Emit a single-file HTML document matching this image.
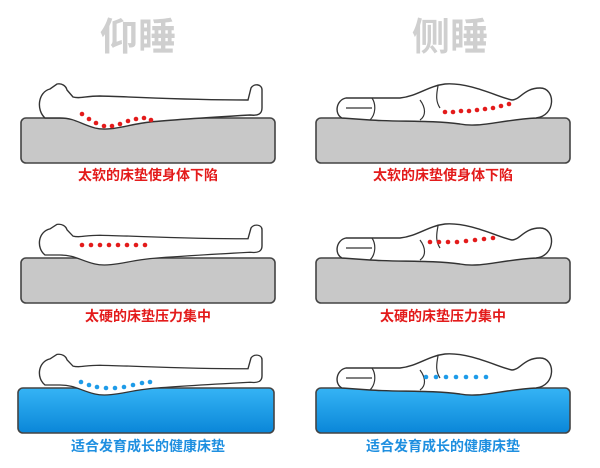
<!DOCTYPE html>
<html><head><meta charset="utf-8"><style>
html,body{margin:0;padding:0;background:#fff;width:600px;height:468px;overflow:hidden}
svg{display:block}
.t{font-family:"Liberation Sans","Noto Sans CJK SC",sans-serif;font-weight:bold}
</style></head><body>
<svg width="600" height="468" viewBox="0 0 600 468" xmlns="http://www.w3.org/2000/svg">
<defs>
<linearGradient id="bl" x1="0" y1="0" x2="0" y2="1"><stop offset="0" stop-color="#35b4f5"/><stop offset="1" stop-color="#0a86d8"/></linearGradient>
<g id="sup"><path d="M45,30 C36,22 38,4 50,1 L57,-4 C62,-5 66,-2 67,2 L73,9 C80,11 85,8 100,8 C140,9 180,12 248,12 L251,0 C254,-5 262,-4 262,2 L262,20 C262,26 258,28 250,27 C200,30 170,32 150,34 C130,36 110,44 95,40 C80,36 75,30 60,30 Z" fill="#fff" stroke="#333" stroke-width="1.4"/></g>
<g id="side"><path d="M342,30 C334,26 336,12 346,10 L400,10 C418,8 428,-2 445,-4 C470,-6 500,10 512,12 C520,12 524,0 540,0 C556,0 556,28 536,30 C500,32 480,40 460,36 C430,32 400,34 370,32 Z" fill="#fff" stroke="#333" stroke-width="1.4"/>
<path d="M346,20 L372,20 M372,10 C376,16 376,26 370,32 M420,12 C426,20 426,28 420,32 M438,-2 C436,8 436,14 440,20" fill="none" stroke="#333" stroke-width="1.2"/></g>
</defs>
<text x="138" y="50" text-anchor="middle" class="t" font-size="38" fill="#cfcfcf">仰睡</text>
<text x="450" y="50" text-anchor="middle" class="t" font-size="38" fill="#cfcfcf">侧睡</text>

<rect x="21" y="118" width="254" height="45" rx="5" fill="#c8c8c8" stroke="#444" stroke-width="1.6"/>
<rect x="316" y="118" width="254" height="45" rx="5" fill="#c8c8c8" stroke="#444" stroke-width="1.6"/>
<rect x="21" y="258" width="254" height="45" rx="5" fill="#c8c8c8" stroke="#444" stroke-width="1.6"/>
<rect x="316" y="258" width="254" height="45" rx="5" fill="#c8c8c8" stroke="#444" stroke-width="1.6"/>
<rect x="18" y="388" width="256" height="45" rx="5" fill="url(#bl)" stroke="#444" stroke-width="1.6"/>
<rect x="316" y="388" width="254" height="45" rx="5" fill="url(#bl)" stroke="#444" stroke-width="1.6"/>

<use href="#sup" transform="translate(0,88)"/>
<use href="#side" transform="translate(0,88)"/>
<use href="#sup" transform="translate(0,228) scale(1,0.9)"/>
<use href="#side" transform="translate(0,228)"/>
<use href="#sup" transform="translate(0,358) scale(1,0.9)"/>
<use href="#side" transform="translate(0,358)"/>

<g fill="#e31b1b">
<circle cx="82" cy="114" r="2.3"/><circle cx="89" cy="119" r="2.3"/><circle cx="96" cy="123" r="2.3"/><circle cx="104" cy="126" r="2.3"/><circle cx="112" cy="126" r="2.3"/><circle cx="120" cy="124" r="2.3"/><circle cx="128" cy="121" r="2.3"/><circle cx="136" cy="119" r="2.3"/><circle cx="144" cy="118" r="2.3"/><circle cx="151" cy="120" r="2.3"/>
<circle cx="445" cy="112" r="2.3"/><circle cx="453" cy="112" r="2.3"/><circle cx="461" cy="111" r="2.3"/><circle cx="469" cy="111" r="2.3"/><circle cx="477" cy="110" r="2.3"/><circle cx="485" cy="109" r="2.3"/><circle cx="493" cy="108" r="2.3"/><circle cx="501" cy="106" r="2.3"/><circle cx="509" cy="104" r="2.3"/>
<circle cx="82" cy="245" r="2.3"/><circle cx="91" cy="245" r="2.3"/><circle cx="100" cy="245" r="2.3"/><circle cx="109" cy="245" r="2.3"/><circle cx="118" cy="245" r="2.3"/><circle cx="127" cy="245" r="2.3"/><circle cx="136" cy="245" r="2.3"/><circle cx="145" cy="245" r="2.3"/>
<circle cx="430" cy="242" r="2.3"/><circle cx="439" cy="242" r="2.3"/><circle cx="448" cy="242" r="2.3"/><circle cx="457" cy="242" r="2.3"/><circle cx="466" cy="241" r="2.3"/><circle cx="475" cy="240" r="2.3"/><circle cx="484" cy="239" r="2.3"/><circle cx="493" cy="238" r="2.3"/>
</g>
<g fill="#1e9be8">
<circle cx="81" cy="382" r="2.3"/><circle cx="89" cy="385" r="2.3"/><circle cx="97" cy="387" r="2.3"/><circle cx="106" cy="388" r="2.3"/><circle cx="115" cy="388" r="2.3"/><circle cx="124" cy="387" r="2.3"/><circle cx="133" cy="385" r="2.3"/><circle cx="142" cy="383" r="2.3"/><circle cx="150" cy="382" r="2.3"/>
<circle cx="426" cy="377" r="2.3"/><circle cx="436" cy="377" r="2.3"/><circle cx="446" cy="377" r="2.3"/><circle cx="456" cy="377" r="2.3"/><circle cx="466" cy="377" r="2.3"/><circle cx="476" cy="377" r="2.3"/><circle cx="486" cy="377" r="2.3"/>
</g>

<g class="t" font-size="14" text-anchor="middle">
<text x="148" y="180" fill="#e31b1b">太软的床垫使身体下陷</text>
<text x="443" y="180" fill="#e31b1b">太软的床垫使身体下陷</text>
<text x="148" y="321" fill="#e31b1b">太硬的床垫压力集中</text>
<text x="443" y="321" fill="#e31b1b">太硬的床垫压力集中</text>
<text x="148" y="451" fill="#1e8fe0">适合发育成长的健康床垫</text>
<text x="443" y="451" fill="#1e8fe0">适合发育成长的健康床垫</text>
</g>
</svg>
</body></html>
